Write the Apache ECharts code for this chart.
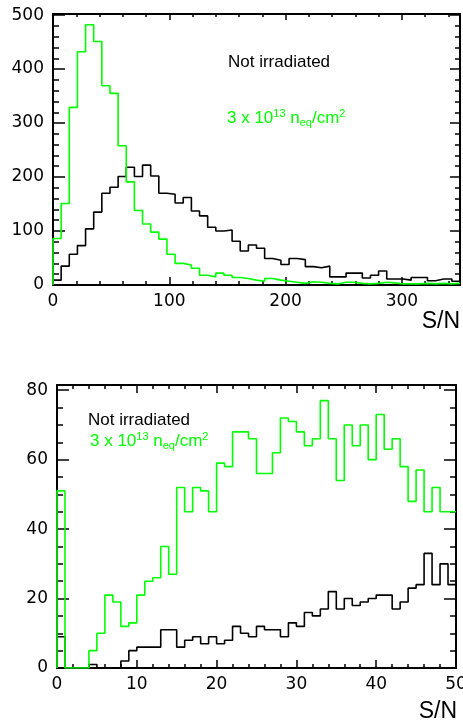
<!DOCTYPE html>
<html>
<head>
<meta charset="utf-8">
<script src="https://cdn.jsdelivr.net/npm/echarts@6/dist/echarts.min.js"></script>
<style>
html,body{margin:0;padding:0;background:#fff;}
#chart{width:463px;height:724px;}
</style>
</head>
<body>
<div id="chart"></div>
<script>
// ---------- data ----------
const topBinWidth = 7;          // S/N per bin, top panel (0..350)
const bottomBinWidth = 1;       // S/N per bin, bottom panel (0..50)

const topGreen = [86,151,329,432,482,451,369,355,258,191,138,113,98,85,57,40,37,31,18,15,22,18,14,12,9,7,12,9,7,5,3,6,5,3,2,5,5,3,2,3,5,4,2,2,2,3,2,3,2,3];
const topBlack = [9,35,57,73,104,135,170,181,201,218,201,222,202,170,168,152,162,137,128,107,100,102,81,63,74,68,49,46,38,49,47,34,32,35,15,15,22,22,13,18,26,11,11,9,14,14,8,11,11,7];

const bottomGreen = [51,0,0,0,5,10,21,19,12,13,21,25,26,35,27,52,45,52,51,45,59,58,68,68,66,56,56,62,72,71,68,64,66,77,66,54,70,64,70,60,73,63,66,58,48,57,45,52,45,45];
const bottomBlack = [9,0,0,0,1,0,0,0,2,5,6,6,6,11,11,6,8,9,7,9,7,8,12,10,9,12,11,11,9,13,12,16,15,17,22,17,20,18,19,20,21,21,17,19,23,24,33,24,30,24];

const topXRange = [0, 350], topXMajor = 100, topXMinor = 20;
const topYRange = [0, 502], topYMajor = 100, topYMinor = 20;
const botXRange = [0, 50],  botXMajor = 10,  botXMinor = 2;
const botYRange = [0, 81.5], botYMajor = 20, botYMinor = 5;

const labelNot = 'Not irradiated';
const xTitle = 'S/N';

// ---------- helpers ----------
function histPoints(values, w) {
  const pts = [[0, 0]];
  values.forEach((v, i) => pts.push([i * w, v]));
  pts.push([values.length * w, values[values.length - 1]]);
  return pts;
}

const labelFont = {fontFamily: 'DejaVu Sans', fontSize: 17, color: '#000'};

function axisSet(gridIndex, isX, range, major, minor, lens) {
  const posMain = isX ? 'bottom' : 'left';
  const posOpp = isX ? 'top' : 'right';
  const mk = (pos, interval, len, withLine, withLabel) => ({
    type: 'value', gridIndex, position: pos, min: range[0], max: range[1], interval,
    axisLine: {show: withLine, onZero: false, lineStyle: {color: '#000', width: 2}},
    axisTick: {show: true, inside: true, length: len, lineStyle: {color: '#000', width: 1.5}},
    axisLabel: Object.assign({show: withLabel, margin: isX ? 8 : 9, showMaxLabel: isX ? (range[1] % major === 0) : false, hideOverlap: false}, labelFont),
    splitLine: {show: false}, minorTick: {show: false}
  });
  return [
    mk(posMain, major, lens.main[0], true, true),
    mk(posMain, minor, lens.main[1], false, false),
    mk(posOpp, major, lens.opp[0], true, false),
    mk(posOpp, minor, lens.opp[1], false, false)
  ];
}

const xAxes = [].concat(
  axisSet(0, true, topXRange, topXMajor, topXMinor, {main: [8, 4], opp: [6, 3]}),
  axisSet(1, true, botXRange, botXMajor, botXMinor, {main: [8, 4], opp: [8, 4]})
);
const yAxes = [].concat(
  axisSet(0, false, topYRange, topYMajor, topYMinor, {main: [12, 6], opp: [10, 5]}),
  axisSet(1, false, botYRange, botYMajor, botYMinor, {main: [12, 6], opp: [12, 6]})
);

function histSeries(values, w, color, xi, yi) {
  return {
    type: 'line', step: 'end', data: histPoints(values, w), xAxisIndex: xi, yAxisIndex: yi,
    showSymbol: false, symbol: 'none', lineStyle: {color, width: 1.6}, itemStyle: {color},
    animation: false, silent: true
  };
}

const green = '#00ff00';
const richText = (x, y, size) => ({
  type: 'text', left: x, top: y - 10,
  style: {
    text: '{a|3 x 10}{sup|13}{a| n}{sub|eq}{a|/cm}{sup|2}',
    rich: {
      a: {fontFamily: 'Liberation Sans', fontSize: size, fill: green, color: green, lineHeight: 20, verticalAlign: 'middle'},
      sup: {fontFamily: 'Liberation Sans', fontSize: Math.round(size * 0.65), fill: green, color: green, lineHeight: 10, verticalAlign: 'top'},
      sub: {fontFamily: 'Liberation Sans', fontSize: Math.round(size * 0.65), fill: green, color: green, lineHeight: 9, verticalAlign: 'bottom'}
    }
  }
});

const chart = echarts.init(document.getElementById('chart'), null, {renderer: 'canvas'});
chart.setOption({
  animation: false,
  backgroundColor: '#fff',
  grid: [
    {left: 53, top: 14, width: 407, height: 271, outerBoundsMode: 'none', containLabel: false},
    {left: 57, top: 385, width: 399, height: 283, outerBoundsMode: 'none', containLabel: false}
  ],
  xAxis: xAxes,
  yAxis: yAxes,
  series: [
    histSeries(topBlack, topBinWidth, '#000', 0, 0),
    histSeries(topGreen, topBinWidth, green, 0, 0),
    histSeries(bottomBlack, bottomBinWidth, '#000', 4, 4),
    histSeries(bottomGreen, bottomBinWidth, green, 4, 4)
  ],
  graphic: [
    {type: 'text', left: 228, top: 54, style: {text: labelNot, fontFamily: 'Liberation Sans', fontSize: 17, fill: '#000'}},
    richText(227, 118, 17),
    {type: 'text', left: 88, top: 412, style: {text: labelNot, fontFamily: 'Liberation Sans', fontSize: 17, fill: '#000'}},
    richText(90, 441, 17),
    {type: 'text', right: 3, top: 310, style: {text: xTitle, fontFamily: 'Liberation Sans', fontSize: 23, fill: '#000'}},
    {type: 'text', right: 6, top: 700, style: {text: xTitle, fontFamily: 'Liberation Sans', fontSize: 23, fill: '#000'}}
  ]
});
</script>
</body>
</html>
